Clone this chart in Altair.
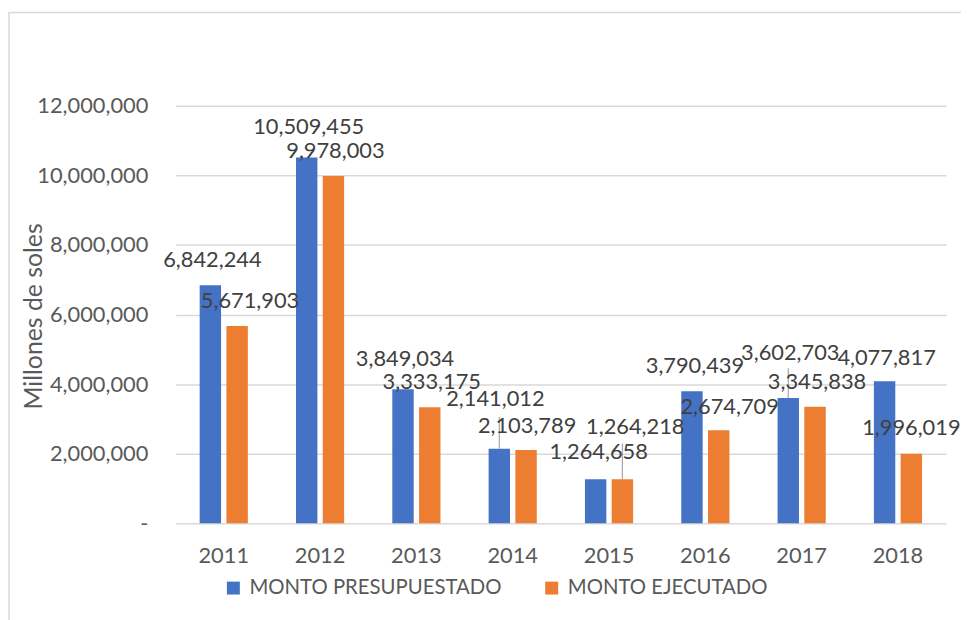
import altair as alt
import pandas as pd

years = ["2011", "2012", "2013", "2014", "2015", "2016", "2017", "2018"]
series_names = ["MONTO PRESUPUESTADO", "MONTO EJECUTADO"]
presupuestado = [6842244, 10509455, 3849034, 2141012, 1264658, 3790439, 3602703, 4077817]
ejecutado = [5671903, 9978003, 3333175, 2103789, 1264218, 2674709, 3345838, 1996019]
y_ticks = [0, 2000000, 4000000, 6000000, 8000000, 10000000, 12000000]

# label placement (pixel offsets from bar top centre), style only
pres_dx = [2, 2, 2, -4, 3, 3, 2, 2]
pres_dy = [-25, -31, -31, -50, -27, -26, -45, -24]
ejec_dx = [13, 2, 2, 1, 13, 11, 2, 0]
ejec_dy = [-25, -25, -25, -24, -53, -23, -25, -26]
# leader lines (pixel length upward), 0 = none
pres_lead = [0, 0, 0, 32, 0, 0, 30, 0]
ejec_lead = [0, 0, 0, 0, 36, 0, 0, 0]

W, H = 777, 421
YMAX = 12000000
px2val = YMAX / H

rows = []
for i, yr in enumerate(years):
    rows.append(dict(year=yr, series=series_names[0], value=presupuestado[i],
                     dx=pres_dx[i], dy=pres_dy[i], lead=pres_lead[i]))
    rows.append(dict(year=yr, series=series_names[1], value=ejecutado[i],
                     dx=ejec_dx[i], dy=ejec_dy[i], lead=ejec_lead[i]))
df = pd.DataFrame(rows)
df["lead_top"] = df["value"] + df["lead"] * px2val
df["label"] = df["value"].map(lambda v: f"{v:,}")

colors = ["#4472C4", "#ED7D31"]

x_enc = alt.X("year:N", sort=years, title=None,
              scale=alt.Scale(paddingInner=0.5, paddingOuter=0.25),
              axis=alt.Axis(labelAngle=0, ticks=False, domain=False, labelPadding=23,
                            labelFontSize=22, labelColor="#595959"))
xo_enc = alt.XOffset("series:N", sort=series_names,
                     scale=alt.Scale(domain=series_names, paddingInner=0.2))
y_enc = alt.Y("value:Q", scale=alt.Scale(domain=[0, YMAX], nice=False),
              axis=alt.Axis(values=y_ticks,
                            labelExpr="datum.value == 0 ? '-\u00a0\u00a0\u00a0' : format(datum.value, ',')",
                            grid=True, gridColor="#d9d9d9", gridWidth=1.5,
                            domain=False, ticks=False, labelPadding=28,
                            labelFontSize=22, labelColor="#595959",
                            title="Millones de soles", titleFontSize=25,
                            titleFontWeight="normal", titleColor="#595959",
                            titleX=-143, titleY=212, titleAngle=-90,
                            titleAlign="center", titleBaseline="middle"))

base = alt.Chart(df)

bars = base.mark_bar().encode(
    x=x_enc, xOffset=xo_enc, y=y_enc,
    color=alt.Color("series:N", sort=series_names,
                    scale=alt.Scale(domain=series_names, range=colors),
                    legend=alt.Legend(title=None, orient="none", direction="horizontal",
                                      legendX=48, legendY=476, symbolType="square",
                                      symbolSize=170, symbolStrokeWidth=0,
                                      labelFontSize=20.5, labelColor="#595959",
                                      labelLimit=0, columnPadding=40, labelOffset=6)),
)

leads = base.transform_filter("datum.lead > 0").mark_rule(color="#a6a6a6", strokeWidth=1.2).encode(
    x=alt.X("year:N", sort=years), xOffset=xo_enc,
    y=alt.Y("value:Q"), y2=alt.Y2("lead_top:Q"),
)

label_layers = []
for i, yr in enumerate(years):
    for s_idx, s in enumerate(series_names):
        dx = pres_dx[i] if s_idx == 0 else ejec_dx[i]
        dy = pres_dy[i] if s_idx == 0 else ejec_dy[i]
        label_layers.append(
            base.transform_filter(f"datum.year == '{yr}' && datum.series == '{s}'")
            .mark_text(fontSize=22, color="#404040", baseline="middle", align="center",
                       dx=dx, dy=dy)
            .encode(x=alt.X("year:N", sort=years), xOffset=xo_enc,
                    y=alt.Y("value:Q"), text="label:N")
        )

frame = alt.Chart(pd.DataFrame({"a": [0]})).mark_rect(
    fill=None, stroke="#d9d9d9", strokeWidth=1.5
).encode(x=alt.value(-168), x2=alt.value(W + 40), y=alt.value(-94), y2=alt.value(H + 140))

chart = alt.layer(frame, bars, leads, *label_layers).properties(
    width=W, height=H,
    autosize=alt.AutoSizeParams(type="none"),
    padding={"left": 169, "top": 96, "right": 15, "bottom": 95},
).configure(font="Lato").configure_view(stroke=None)

chart.save("out.html", embed_options={"renderer": "svg", "actions": False})
